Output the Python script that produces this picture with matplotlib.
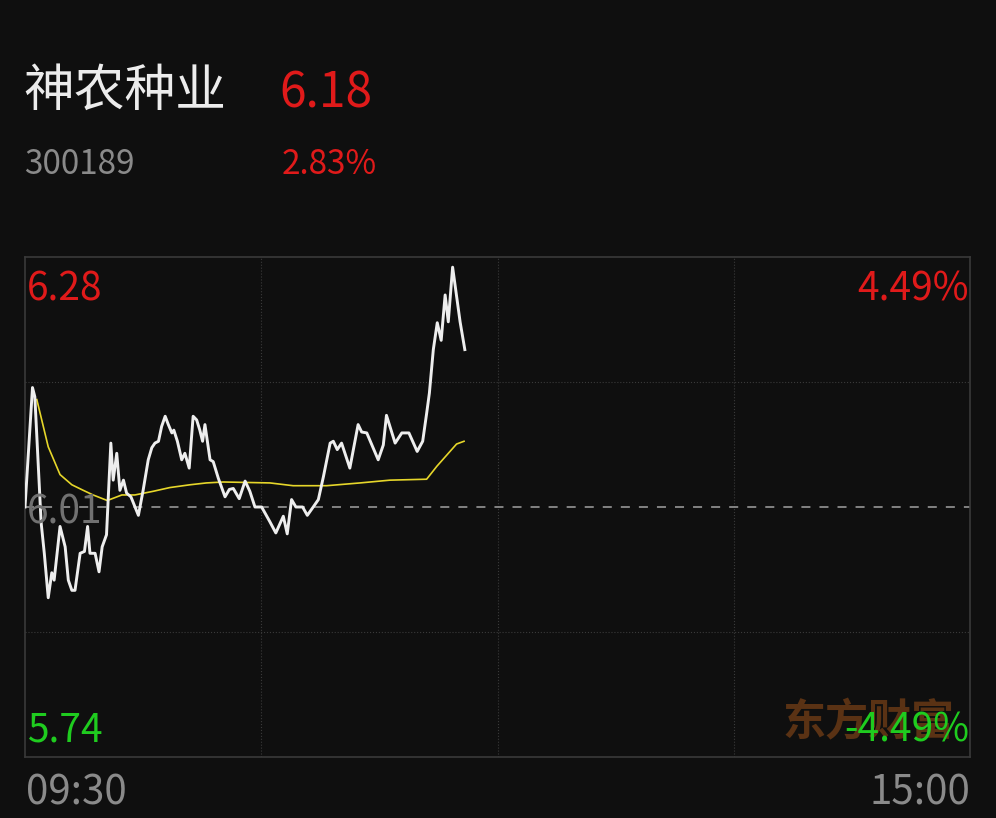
import numpy as np
import matplotlib
matplotlib.use('Agg')
import matplotlib.pyplot as plt

plt.rcParams['font.family'] = ['Noto Sans CJK SC', 'DejaVu Sans']

# stock info
name = '神农种业'
code = '300189'
last_price = '6.18'
change_pct = '2.83%'
prev_close = 6.01
price_hi, price_lo = 6.28, 5.74
pct_hi, pct_lo = '4.49%', '-4.49%'
time_labels = ['09:30', '15:00']

# intraday price (minutes after 09:30, price)
t_price = [0, 1.9, 2.5, 4.1, 4.9, 5.9, 6.8, 7.4, 8.9, 10.2, 11.0, 11.9, 12.7, 14.0, 15.1,
           15.9, 16.5, 17.8, 18.8, 19.6, 20.7, 21.8, 22.4, 23.3, 24.1, 25.0, 25.8, 26.9,
           28.8, 30.0, 31.3, 32.2, 33.0, 33.9, 34.7, 35.6, 36.4, 37.3, 37.8, 38.7, 39.8,
           40.6, 41.7, 42.7, 43.6, 44.4, 45.1, 45.7, 47.0, 47.8, 49.1, 50.8, 51.9, 52.9,
           54.4, 55.9, 57.1, 58.4, 60.1, 62.2, 63.7, 65.6, 66.6, 67.7, 68.8, 70.5, 71.7,
           73.2, 74.5, 75.8, 77.5, 78.3, 79.3, 80.4, 82.5, 84.6, 85.5, 86.8, 89.7, 91.0,
           91.8, 94.0, 95.7, 97.5, 99.6, 101.0, 102.0, 102.7, 103.7, 104.7, 105.7, 106.7,
           107.5, 108.6, 110.5, 111.7]
price = [6.010, 6.139, 6.129, 5.993, 5.960, 5.912, 5.939, 5.931, 5.989, 5.967, 5.931, 5.920,
         5.920, 5.960, 5.962, 5.989, 5.960, 5.960, 5.940, 5.967, 5.980, 6.079, 6.039, 6.068,
         6.028, 6.039, 6.025, 6.021, 6.001, 6.028, 6.061, 6.074, 6.079, 6.081, 6.097, 6.108,
         6.099, 6.090, 6.093, 6.081, 6.061, 6.068, 6.052, 6.108, 6.104, 6.093, 6.081, 6.099,
         6.061, 6.059, 6.041, 6.021, 6.029, 6.030, 6.019, 6.038, 6.027, 6.010, 6.010, 5.994,
         5.982, 6.000, 5.981, 6.018, 6.010, 6.010, 6.001, 6.010, 6.018, 6.043, 6.079, 6.081,
         6.072, 6.079, 6.052, 6.099, 6.091, 6.090, 6.061, 6.077, 6.109, 6.079, 6.090, 6.090,
         6.070, 6.081, 6.111, 6.133, 6.180, 6.209, 6.190, 6.239, 6.210, 6.269, 6.210, 6.180]

# average price line
t_avg = [3.0, 5.9, 8.9, 11.9, 14.8, 17.3, 20.9, 24.6, 27.9, 32.6, 36.8, 41.9, 46.1, 50.4,
         62.2, 68.1, 76.6, 85.1, 92.7, 102.0, 104.6, 107.1, 109.6, 111.5]
avg = [6.126, 6.075, 6.045, 6.034, 6.028, 6.023, 6.017, 6.023, 6.023, 6.027, 6.031, 6.034,
       6.036, 6.037, 6.036, 6.033, 6.033, 6.036, 6.039, 6.040, 6.054, 6.066, 6.078, 6.081]

bg = '#0f0f0f'
red = '#e01a1a'
green = '#1fcc1f'
gray = '#8a8a8a'

W, H = 996, 818
fig = plt.figure(figsize=(W / 100, H / 100), dpi=100, facecolor=bg)

def px(x, y):
    return x / W, 1 - y / H

ax = fig.add_axes([25 / W, (H - 757) / H, 945 / W, 500 / H], facecolor=bg)
ax.set_xlim(0, 240)
ax.set_ylim(price_lo, price_hi)
ax.set_xticks([60, 120, 180])
ax.set_yticks([price_lo + 0.135, price_hi - 0.135])
ax.tick_params(length=0, labelbottom=False, labelleft=False)
ax.grid(color='#3a3a3a', linestyle=':', linewidth=0.8)
for s in ax.spines.values():
    s.set_color('#3a3a3a')
    s.set_linewidth(1.2)

ax.axhline(prev_close, color='#8c8c8c', linestyle=(0, (5, 5)), linewidth=1.3, zorder=2)
ax.plot(t_avg, avg, color='#e6d62a', linewidth=1.2, zorder=3)
ax.plot(t_price, price, color='#eeeeee', linewidth=2.1, zorder=4)

# axis value labels
fs = 28
ax.text(0.002, 0.975, f'{price_hi:.2f}', transform=ax.transAxes, color=red, fontsize=fs,
        ha='left', va='top', zorder=1)
ax.text(0.999, 0.975, pct_hi, transform=ax.transAxes, color=red, fontsize=fs,
        ha='right', va='top', zorder=1)
ax.text(0.002, 0.49, f'{prev_close:.2f}', transform=ax.transAxes, color='#717171', fontsize=fs,
        ha='left', va='center', zorder=5)
ax.text(0.893, 0.07, '东方财富', transform=ax.transAxes, color='#5a3214', fontsize=31,
        fontweight='heavy', ha='center', va='center', zorder=1)
ax.text(0.002, 0.012, f'{price_lo:.2f}', transform=ax.transAxes, color=green, fontsize=fs,
        ha='left', va='bottom', zorder=5)
ax.text(0.999, 0.012, pct_lo, transform=ax.transAxes, color=green, fontsize=fs,
        ha='right', va='bottom', zorder=5)

# time labels
fig.text(*px(26, 793), time_labels[0], color=gray, fontsize=29, ha='left', va='center')
fig.text(*px(970, 793), time_labels[1], color=gray, fontsize=29, ha='right', va='center')

# header
fig.text(*px(23, 92), name, color='#ececec', fontsize=36.5, ha='left', va='center')
fig.text(*px(279, 94), last_price, color=red, fontsize=34.5, ha='left', va='center')
fig.text(*px(24, 164), code, color=gray, fontsize=24, ha='left', va='center')
fig.text(*px(282, 164), change_pct, color=red, fontsize=24, ha='left', va='center')

fig.savefig('out.png', dpi=100, facecolor=bg)
